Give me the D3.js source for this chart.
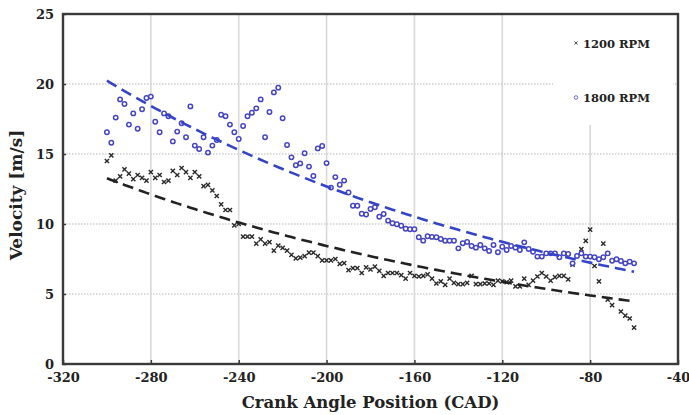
<!DOCTYPE html>
<html>
<head>
<meta charset="utf-8">
<script src="https://cdn.jsdelivr.net/npm/d3@7"></script>
<style>
  html, body { margin: 0; padding: 0; background: #fff; }
  svg { display: block; }
  text { font-family: "DejaVu Serif", "Liberation Serif", serif; font-weight: bold; fill: #222; }
</style>
</head>
<body>
<svg id="chart" width="689" height="415"></svg>
<script>
// Crank angle positions (CAD) and measured velocities (m/s)
const cad1200 = [-300,-298,-296,-294,-292,-290,-288,-286,-284,-282,-280,-278,-276,-274,-272,-270,-268,-266,-264,-262,-260,-258,-256,-254,-252,-250,-248,-246,-244,-242,-240,-238,-236,-234,-232,-230,-228,-226,-224,-222,-220,-218,-216,-214,-212,-210,-208,-206,-204,-202,-200,-198,-196,-194,-192,-190,-188,-186,-184,-182,-180,-178,-176,-174,-172,-170,-168,-166,-164,-162,-160,-158,-156,-154,-152,-150,-148,-146,-144,-142,-140,-138,-136,-134,-132,-130,-128,-126,-124,-122,-120,-118,-116,-114,-112,-110,-108,-106,-104,-102,-100,-98,-96,-94,-92,-90,-88,-84,-82,-80,-78,-76,-74,-72,-70,-66,-64,-62,-60];
const vel1200 = [14.5,14.9,13.1,13.4,13.9,13.6,13.2,13.5,13.3,13.1,
  13.7,13.3,13.5,13.0,13.1,13.8,13.5,14.0,13.7,13.3,
  13.7,13.4,12.7,12.8,12.4,12.0,11.4,11.0,11.0,9.9,
  10.0,9.1,9.1,9.1,8.6,8.9,8.6,8.7,8.1,8.45,
  8.3,8.1,7.8,7.55,7.6,7.7,7.95,7.95,7.7,7.4,
  7.4,7.4,7.5,7.15,7.2,6.7,6.85,6.85,6.5,6.9,
  6.75,6.95,6.65,6.3,6.5,6.5,6.5,6.35,6.1,6.5,
  6.3,6.25,6.3,6.4,6.1,5.75,5.9,5.65,6.1,5.8,
  5.7,5.7,5.8,6.3,5.7,5.7,5.75,5.75,5.65,5.95,
  5.9,5.85,5.95,5.55,5.55,6.1,5.65,5.95,6.25,6.5,
  6.25,5.95,6.2,6.3,6.3,6.05,7.1,
  8.2,8.8,9.6,7.0,5.9,8.6,4.6,4.2,3.75,3.45,3.25,2.6];

const cad1800 = [-300,-298,-296,-294,-292,-290,-288,-286,-284,-282,-280,-278,-276,-274,-272,-270,-268,-266,-264,-262,-260,-258,-256,-254,-252,-250,-248,-246,-244,-242,-240,-238,-236,-234,-232,-230,-228,-226,-224,-222,-220,-218,-216,-214,-212,-210,-208,-206,-204,-202,-200,-198,-196,-194,-192,-190,-188,-186,-184,-182,-180,-178,-176,-174,-172,-170,-168,-166,-164,-162,-160,-158,-156,-154,-152,-150,-148,-146,-144,-142,-140,-138,-136,-134,-132,-130,-128,-126,-124,-122,-120,-118,-116,-114,-112,-110,-108,-106,-104,-102,-100,-98,-96,-94,-92,-90,-88,-86,-84,-82,-80,-78,-76,-74,-72,-70,-68,-66,-64,-62,-60];
const vel1800 = [16.55,15.8,17.6,18.9,18.57,17.1,17.9,16.8,18.2,19.0,
  19.1,17.3,16.55,17.9,17.7,15.9,16.6,17.2,16.2,18.4,
  15.6,15.36,16.2,15.1,15.6,16.0,17.8,17.7,17.1,16.55,
  16.07,17.0,17.7,17.95,18.26,18.9,16.2,18.0,19.4,19.74,
  17.55,15.64,14.76,14.2,14.33,15.05,14.1,13.43,15.4,15.57,
  14.35,12.6,13.35,12.8,13.1,12.25,11.3,11.3,10.73,10.68,
  11.07,11.2,10.52,10.71,10.24,10.05,9.98,9.87,9.66,9.63,
  9.63,9.05,8.81,9.12,9.08,9.05,8.93,8.8,8.8,8.8,
  8.26,8.62,8.72,8.43,8.31,8.5,8.26,8.07,8.5,7.98,
  8.38,8.14,8.43,8.31,8.14,8.69,8.21,8.02,7.67,7.67,
  7.9,7.9,7.9,7.62,7.9,7.86,7.19,7.71,7.9,7.67,
  7.67,7.62,7.48,7.62,7.9,7.38,7.48,7.36,7.19,7.31,
  7.19];

const xTicks = [-320,-280,-240,-200,-160,-120,-80,-40];
const yTicks = [0,5,10,15,20,25];
const seriesNames = ["1200 RPM", "1800 RPM"];

const W = 689, H = 415;
const margin = { top: 14, right: 11, bottom: 51, left: 63 };
const pw = W - margin.left - margin.right;
const ph = H - margin.top - margin.bottom;

const svg = d3.select("#chart");
const g = svg.append("g").attr("transform", `translate(${margin.left},${margin.top})`);

const x = d3.scaleLinear().domain([-320, -40]).range([0, pw]);
const y = d3.scaleLinear().domain([0, 25]).range([ph, 0]);

// grid: solid verticals, dotted horizontals
g.append("g").selectAll("line").data(xTicks.slice(1, -1)).join("line")
  .attr("x1", d => x(d)).attr("x2", d => x(d))
  .attr("y1", 0).attr("y2", ph)
  .attr("stroke", "#d9d9d9").attr("stroke-width", 1.6);
g.append("g").selectAll("line").data(yTicks.slice(1, -1)).join("line")
  .attr("x1", 0).attr("x2", pw)
  .attr("y1", d => y(d)).attr("y2", d => y(d))
  .attr("stroke", "#cfcfcf").attr("stroke-width", 1.3)
  .attr("stroke-dasharray", "1.5,1.5");

// legend background hides the grid behind it
g.append("rect").attr("x", 490).attr("y", 1).attr("width", 120).attr("height", 110).attr("fill", "#fff");

// exponential trend fitted on ln(v) against crank angle
function expFit(xs, ys) {
  const ly = ys.map(Math.log);
  const mx = d3.mean(xs), my = d3.mean(ly);
  let sxy = 0, sxx = 0;
  xs.forEach((xv, i) => { sxy += (xv - mx) * (ly[i] - my); sxx += (xv - mx) ** 2; });
  const b = sxy / sxx, a = my - b * mx;
  return xv => Math.exp(a + b * xv);
}

function trendLine(xs, ys) {
  const f = expFit(xs, ys);
  const pts = xs.map(d => [d, f(d)]);
  return d3.line().x(d => x(d[0])).y(d => y(d[1]))(pts);
}

// data markers
const crossSize = 2.1;
g.append("g").selectAll("path").data(cad1200.map((c, i) => [c, vel1200[i]])).join("path")
  .attr("d", d => {
    const cx = x(d[0]), cy = y(d[1]), s = crossSize;
    return `M${cx - s},${cy - s}L${cx + s},${cy + s}M${cx - s},${cy + s}L${cx + s},${cy - s}`;
  })
  .attr("stroke", "#2a2a2a").attr("stroke-width", 1.4).attr("fill", "none");

g.append("g").selectAll("circle").data(cad1800.map((c, i) => [c, vel1800[i]])).join("circle")
  .attr("cx", d => x(d[0])).attr("cy", d => y(d[1])).attr("r", 2.2)
  .attr("fill", "#fff").attr("stroke", "#4444c4").attr("stroke-width", 1.5);

// trend lines
g.append("path").attr("d", trendLine(cad1800, vel1800))
  .attr("fill", "none").attr("stroke", "#3344c8").attr("stroke-width", 2.6)
  .attr("stroke-dasharray", "11,6");
g.append("path").attr("d", trendLine(cad1200, vel1200))
  .attr("fill", "none").attr("stroke", "#222").attr("stroke-width", 2.6)
  .attr("stroke-dasharray", "11,6");

// frame
g.append("rect").attr("x", 0).attr("y", 0).attr("width", pw).attr("height", ph)
  .attr("fill", "none").attr("stroke", "#3a3a3a").attr("stroke-width", 2.4);

// axes
const fmt = d => String(d);
const xAxis = g.append("g").attr("transform", `translate(0,${ph})`)
  .call(d3.axisBottom(x).tickValues(xTicks).tickFormat(fmt).tickSizeInner(-4).tickSizeOuter(0).tickPadding(9));
xAxis.select(".domain").remove();
xAxis.selectAll("line").attr("stroke", "#3a3a3a").attr("stroke-width", 1.5);
xAxis.selectAll("text").attr("font-size", 13).attr("fill", "#222");

const yAxis = g.append("g")
  .call(d3.axisLeft(y).tickValues(yTicks).tickFormat(fmt).tickSizeInner(-3).tickSizeOuter(0).tickPadding(9));
yAxis.select(".domain").remove();
yAxis.selectAll("line").attr("stroke", "#3a3a3a").attr("stroke-width", 1.5);
yAxis.selectAll("text").attr("font-size", 13).attr("fill", "#222");

// axis titles
svg.append("text").attr("x", margin.left + pw / 2).attr("y", 408)
  .attr("text-anchor", "middle").attr("font-size", 16.5).text("Crank Angle Position (CAD)");
svg.append("text").attr("transform", `translate(22,${margin.top + ph / 2 + 6}) rotate(-90)`)
  .attr("text-anchor", "middle").attr("font-size", 17).text("Velocity [m/s]");

// legend
const lg = svg.append("g");
const s = 1.6;
lg.append("path").attr("d", `M${576 - s},${43 - s}L${576 + s},${43 + s}M${576 - s},${43 + s}L${576 + s},${43 - s}`)
  .attr("stroke", "#555").attr("stroke-width", 1);
lg.append("text").attr("x", 583).attr("y", 47.5).attr("font-size", 11.5).text(seriesNames[0]);
lg.append("circle").attr("cx", 576).attr("cy", 97.5).attr("r", 1.8)
  .attr("fill", "#fff").attr("stroke", "#6a6ad0").attr("stroke-width", 1);
lg.append("text").attr("x", 583).attr("y", 102).attr("font-size", 11.5).text(seriesNames[1]);
</script>
</body>
</html>
